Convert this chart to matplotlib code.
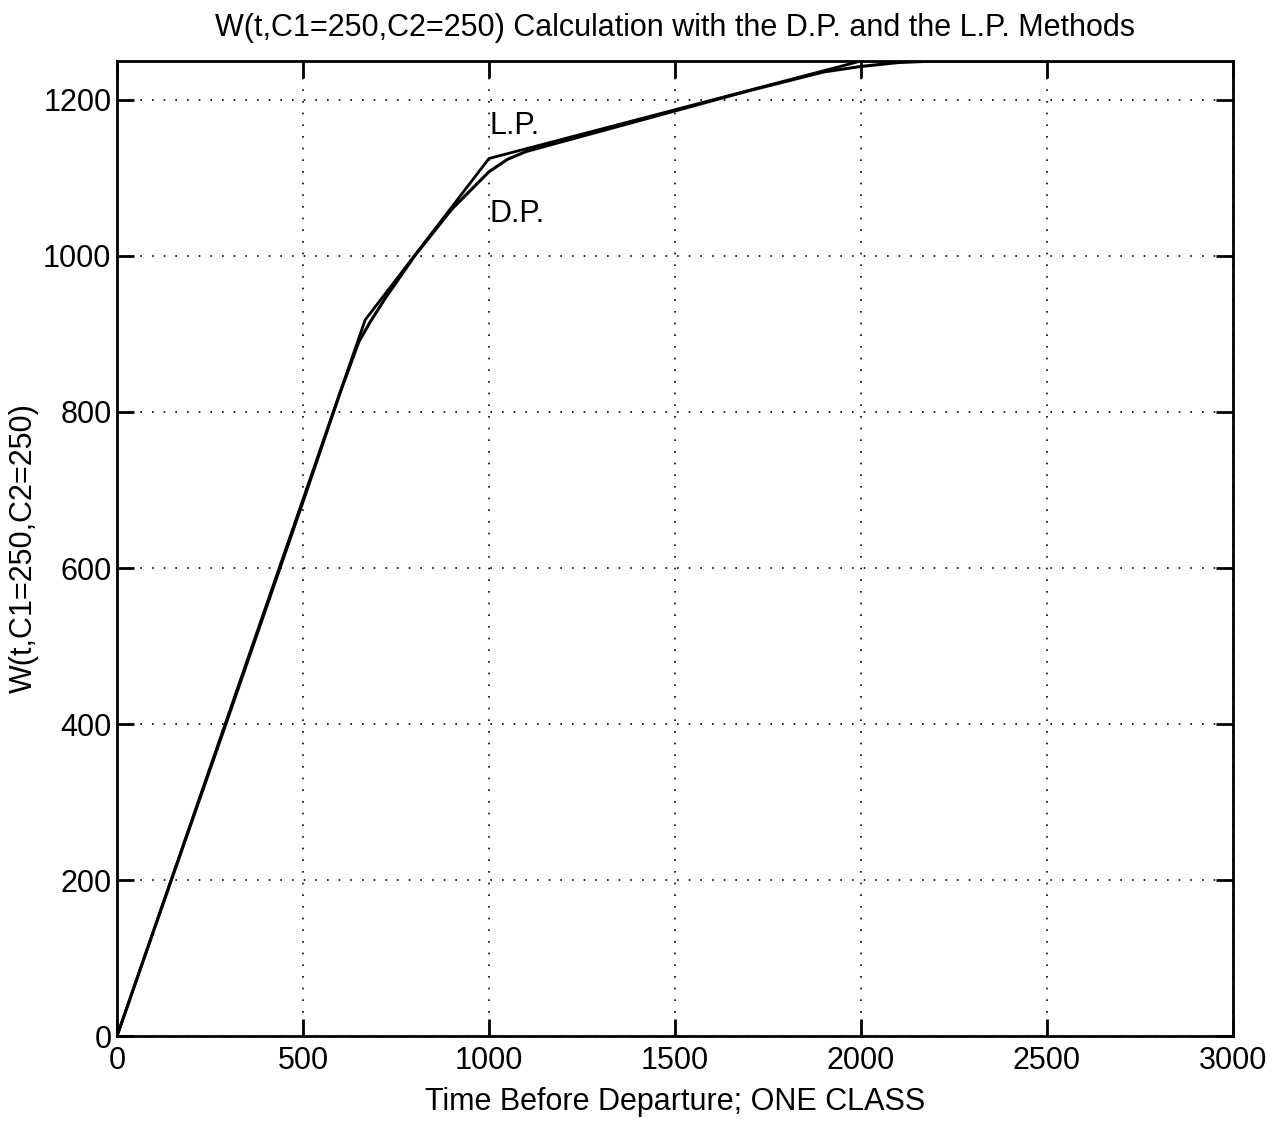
import numpy as np
import matplotlib.pyplot as plt

plt.rcParams['font.family'] = ['Liberation Sans', 'DejaVu Sans']

# L.P. solution (piecewise linear)
lp_t = [0, 667, 1000, 2000, 3000]
lp_w = [0, 918, 1125, 1250, 1250]

# D.P. solution (smooth)
dp_t = [0, 100, 300, 500, 600, 650, 680, 720, 800, 900, 1000, 1050, 1100,
        1300, 1500, 1700, 1900, 2000, 2100, 2200, 3000]
dp_w = [0, 137, 410, 685, 825, 890, 915, 945, 1000, 1060, 1108, 1124, 1134,
        1160, 1186, 1212, 1236, 1243, 1248, 1250, 1250]

fig = plt.figure(figsize=(12.79, 11.21), dpi=100)
ax = fig.add_axes([0.0915, 0.0758, 0.8725, 0.8698])

ax.plot(lp_t, lp_w, color='black', linewidth=2.0)
ax.plot(dp_t, dp_w, color='black', linewidth=2.2)

ax.text(1000, 1167, 'L.P.', fontsize=22, va='center', ha='left')
ax.text(1000, 1054, 'D.P.', fontsize=22, va='center', ha='left')

ax.set_xlim(0, 3000)
ax.set_ylim(0, 1250)
ax.set_xticks([0, 500, 1000, 1500, 2000, 2500, 3000])
ax.set_yticks([0, 200, 400, 600, 800, 1000, 1200])
ax.grid(True, color='black', linestyle=(0, (1, 6)), linewidth=1.2)
ax.tick_params(direction='in', length=12, width=2, labelsize=22,
               top=True, right=True)
ax.tick_params(axis='x', pad=7)
ax.tick_params(axis='y', pad=4)
for s in ax.spines.values():
    s.set_linewidth(2)

ax.set_title('W(t,C1=250,C2=250) Calculation with the D.P. and the L.P. Methods',
             fontsize=22, pad=18)
ax.set_xlabel('Time Before Departure; ONE CLASS', fontsize=22, labelpad=8)
ax.set_ylabel('W(t,C1=250,C2=250)', fontsize=22, labelpad=3)

fig.savefig('out.png', dpi=100)
